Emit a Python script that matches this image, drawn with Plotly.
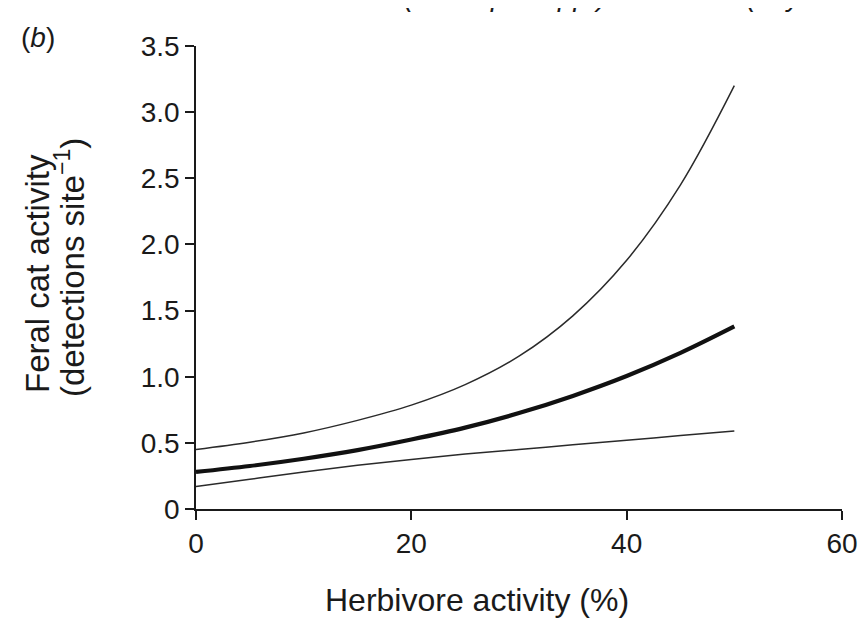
import plotly.graph_objects as go

herbivore = [0, 5, 10, 15, 20, 25, 30, 35, 40, 45, 50]
cat_fit = [0.28, 0.325, 0.38, 0.445, 0.525, 0.615, 0.725, 0.855, 1.005, 1.18, 1.38]
cat_upper = [0.45, 0.505, 0.575, 0.67, 0.785, 0.94, 1.155, 1.46, 1.88, 2.45, 3.20]
cat_lower = [0.17, 0.225, 0.28, 0.33, 0.375, 0.415, 0.45, 0.485, 0.52, 0.555, 0.59]

x_ticks = [0, 20, 40, 60]
y_ticks = [0, 0.5, 1.0, 1.5, 2.0, 2.5, 3.0, 3.5]
y_tick_labels = ["0", "0.5", "1.0", "1.5", "2.0", "2.5", "3.0", "3.5"]

FONT = "Liberation Sans, Arial, sans-serif"
INK = "#1a1a1a"

# plot area in page pixels (the page body adds an 8px offset)
PL, PT, PW, PH = 196, 46, 646, 463
OFF = 8


def px(xp):
    return (xp - PL) / PW


def py(yp):
    return (PT + PH - yp) / PH


fig = go.Figure()
fig.add_trace(go.Scatter(x=herbivore, y=cat_upper, mode="lines",
                         line=dict(color="#2a2a2a", width=1.5, shape="spline"), hoverinfo="skip"))
fig.add_trace(go.Scatter(x=herbivore, y=cat_lower, mode="lines",
                         line=dict(color="#2a2a2a", width=1.5, shape="spline"), hoverinfo="skip"))
fig.add_trace(go.Scatter(x=herbivore, y=cat_fit, mode="lines",
                         line=dict(color="#111111", width=4.2, shape="spline"), hoverinfo="skip"))

fig.update_layout(
    width=866, height=620,
    margin=dict(l=PL - OFF, r=866 - (PL - OFF) - PW, t=PT - OFF, b=620 - (PT - OFF) - PH),
    paper_bgcolor="white", plot_bgcolor="white",
    showlegend=False,
    font=dict(family=FONT, color=INK),
    xaxis=dict(
        range=[0, 60], tickvals=x_ticks, ticktext=[str(v) for v in x_ticks],
        showgrid=False, zeroline=False, showline=True, linecolor=INK, linewidth=1.6,
        ticks="outside", ticklen=9, tickwidth=1.6, tickcolor=INK,
        tickfont=dict(size=28, family=FONT, color=INK),
    ),
    yaxis=dict(
        range=[0, 3.5], tickvals=y_ticks, ticktext=y_tick_labels,
        showgrid=False, zeroline=False, showline=True, linecolor=INK, linewidth=1.6,
        ticks="outside", ticklen=9, tickwidth=1.6, tickcolor=INK,
        tickfont=dict(size=28, family=FONT, color=INK),
    ),
    annotations=[
        dict(text="Herbivore activity (%)", xref="paper", yref="paper",
             x=px(477), y=py(600), xanchor="center", yanchor="middle", showarrow=False,
             font=dict(size=32, family=FONT, color=INK)),
        dict(text="Feral cat activity", xref="paper", yref="paper",
             x=px(37), y=py(274), xanchor="center", yanchor="middle", showarrow=False,
             textangle=-90, font=dict(size=33, family=FONT, color=INK)),
        dict(text="(detections site<sup>\u22121</sup>)", xref="paper", yref="paper",
             x=px(70), y=py(268), xanchor="center", yanchor="middle", showarrow=False,
             textangle=-90, font=dict(size=33, family=FONT, color=INK)),
        dict(text="(<i>b</i>)", xref="paper", yref="paper", x=px(38), y=py(37),
             xanchor="center", yanchor="middle", showarrow=False,
             font=dict(size=28, family=FONT, color=INK)),
        dict(text="<i>(Macropus spp.) and rabbit (Oryctolagus) activity</i>", xref="paper", yref="paper",
             x=px(402), y=py(14), xanchor="left", yanchor="bottom", showarrow=False,
             font=dict(size=28, family=FONT, color=INK)),
    ],
)

fig.write_html("out.html")
